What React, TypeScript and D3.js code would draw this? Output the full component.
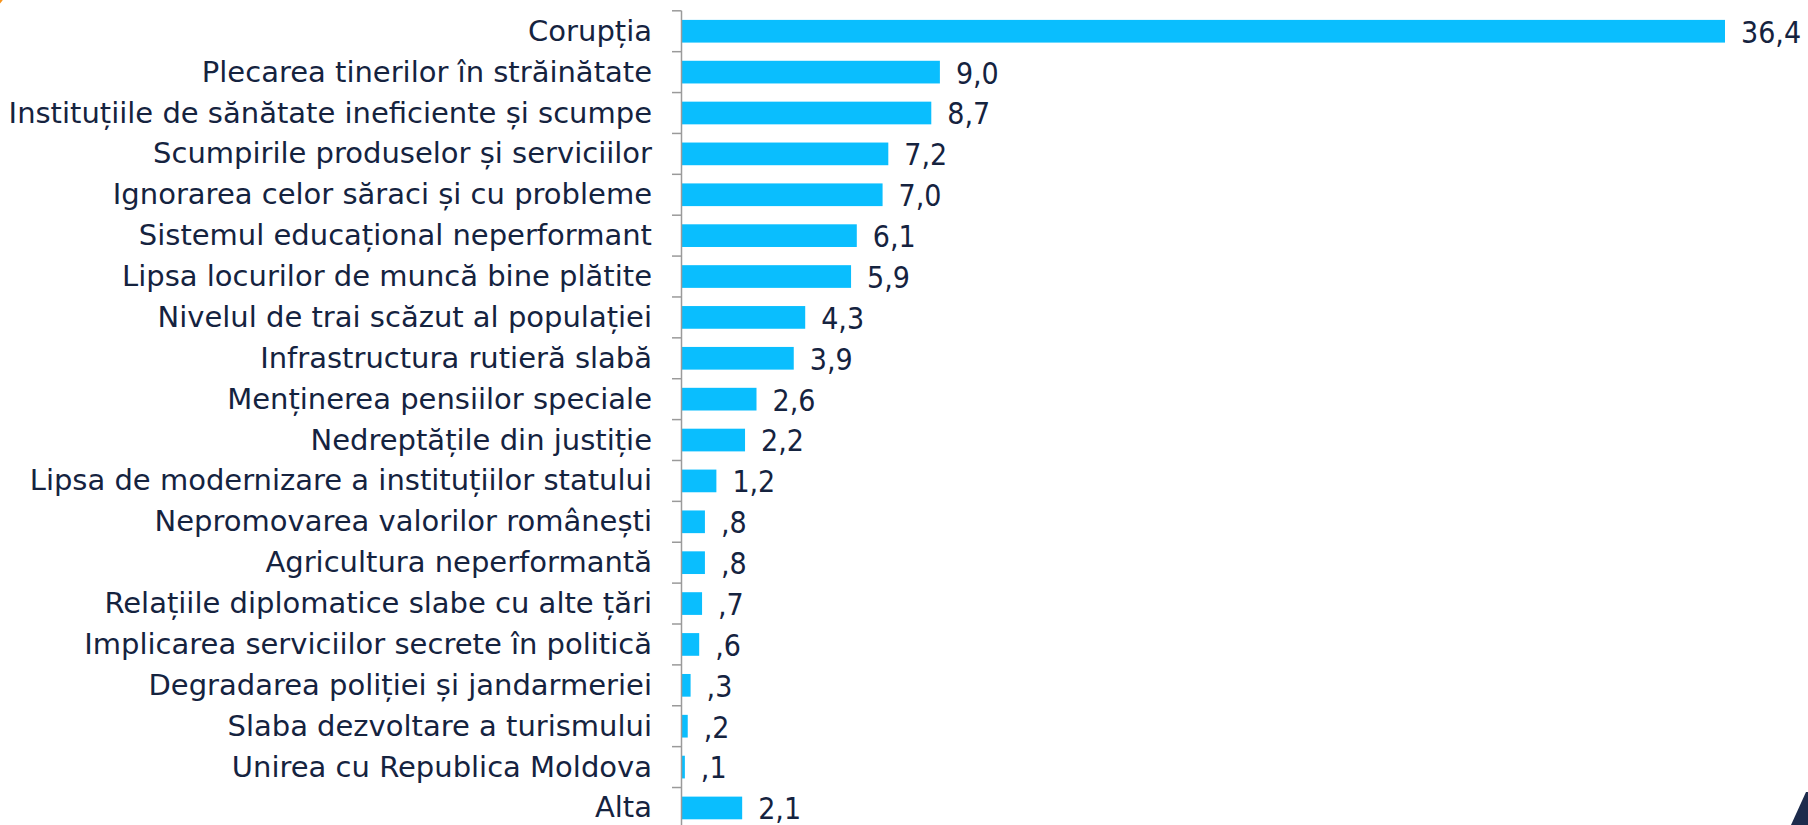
import React from "react";
import * as d3 from "d3";

const categories: string[] = [
  "Corupția",
  "Plecarea tinerilor în străinătate",
  "Instituțiile de sănătate ineficiente și scumpe",
  "Scumpirile produselor și serviciilor",
  "Ignorarea celor săraci și cu probleme",
  "Sistemul educațional neperformant",
  "Lipsa locurilor de muncă bine plătite",
  "Nivelul de trai scăzut al populației",
  "Infrastructura rutieră slabă",
  "Menținerea pensiilor speciale",
  "Nedreptățile din justiție",
  "Lipsa de modernizare a instituțiilor statului",
  "Nepromovarea valorilor românești",
  "Agricultura neperformantă",
  "Relațiile diplomatice slabe cu alte țări",
  "Implicarea serviciilor secrete în politică",
  "Degradarea poliției și jandarmeriei",
  "Slaba dezvoltare a turismului",
  "Unirea cu Republica Moldova",
  "Alta",
];

const values: number[] = [
  36.4, 9.0, 8.7, 7.2, 7.0, 6.1, 5.9, 4.3, 3.9, 2.6, 2.2, 1.2, 0.8, 0.8, 0.7, 0.6, 0.3, 0.2, 0.1, 2.1,
];

const fmt = (v: number) => {
  const s = v.toFixed(1).replace(".", ",");
  return s.startsWith("0,") ? s.slice(1) : s;
};

export default function App() {
  const W = 1808;
  const H = 825;
  const axisX = 681.5;
  const x = d3.scaleLinear().domain([0, 36.4]).range([axisX + 0.5, 1725]);
  const y = d3.scaleBand<string>().domain(categories).range([10.8, 828.4]).padding(0);
  const bw = y.bandwidth();
  const bh = bw * 0.555;
  const textColor = "#15233f";
  const boundaries = d3.range(categories.length + 1).map((i) => 10.8 + i * bw);

  return (
    <svg
      width={W}
      height={H}
      style={{ position: "fixed", left: 0, top: 0, background: "#ffffff" }}
    >
      <rect x={0} y={0} width={W} height={H} fill="#ffffff" />
      <circle cx={-14} cy={-10} r={18} fill="none" stroke="#f7941d" strokeWidth={3} />
      {categories.map((c, i) => {
        const yc = (y(c) as number) + bw / 2;
        return (
          <g key={c}>
            <rect
              x={x(0)}
              y={yc - bh / 2}
              width={x(values[i]) - x(0)}
              height={bh}
              fill="#0abefe"
            />
            <text
              x={652}
              y={yc + 9.5}
              textAnchor="end"
              fontFamily="'DejaVu Sans', sans-serif"
              fontSize={29}
              fill={textColor}
            >
              {c}
            </text>
            <text
              x={x(values[i]) + 16}
              y={yc + 11.4}
              textAnchor="start"
              fontFamily="'DejaVu Sans Condensed', 'DejaVu Sans', sans-serif"
              fontSize={30}
              fill={textColor}
            >
              {fmt(values[i])}
            </text>
          </g>
        );
      })}
      <line x1={axisX} x2={axisX} y1={10.8} y2={H} stroke="#9a9a9a" strokeWidth={1.5} />
      {boundaries.map((b, i) => (
        <line key={i} x1={672} x2={axisX} y1={b} y2={b} stroke="#9a9a9a" strokeWidth={1.5} />
      ))}
      <polygon points="1791,825 1806,792 1808,792 1808,825" fill="#1d2b4c" />
    </svg>
  );
}
